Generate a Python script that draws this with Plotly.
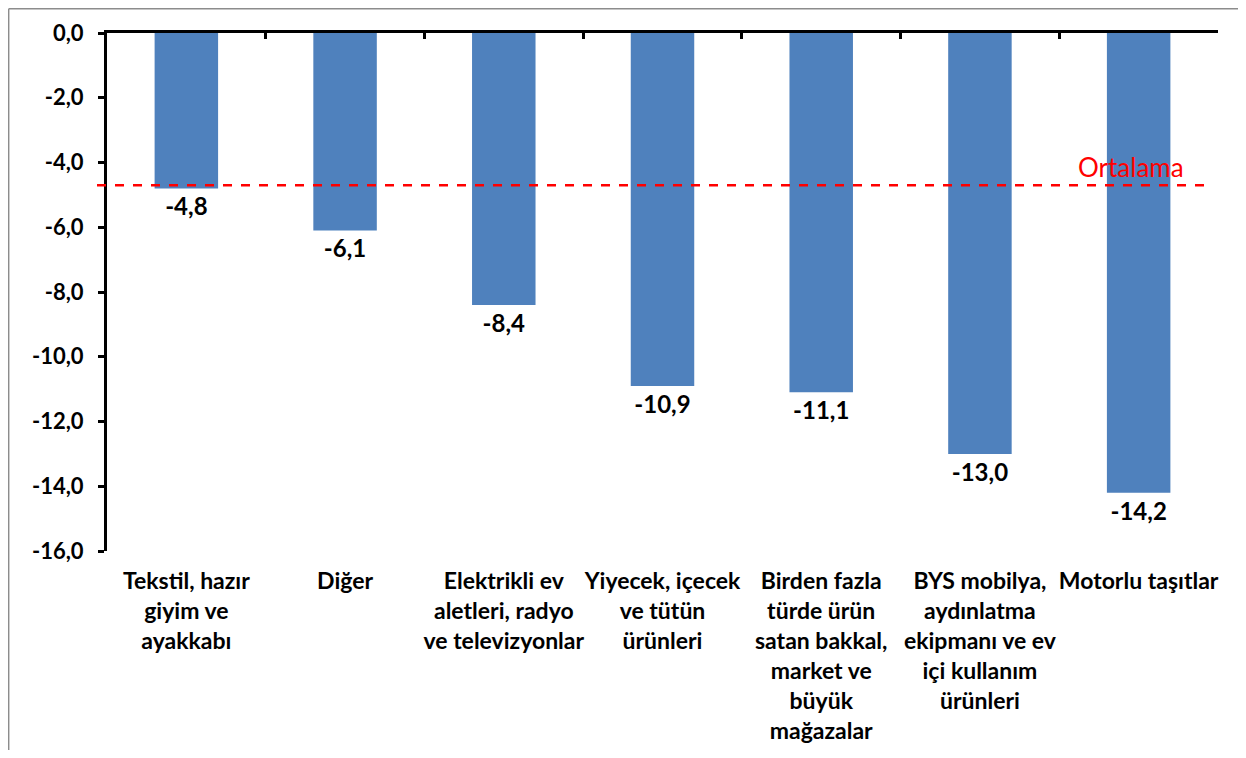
import plotly.graph_objects as go

categories = [
    "Tekstil, hazır<br>giyim ve<br>ayakkabı",
    "Diğer",
    "Elektrikli ev<br>aletleri, radyo<br>ve televizyonlar",
    "Yiyecek, içecek<br>ve tütün<br>ürünleri",
    "Birden fazla<br>türde ürün<br>satan bakkal,<br>market ve<br>büyük<br>mağazalar",
    "BYS mobilya,<br>aydınlatma<br>ekipmanı ve ev<br>içi kullanım<br>ürünleri",
    "Motorlu taşıtlar",
]
values = [-4.8, -6.1, -8.4, -10.9, -11.1, -13.0, -14.2]
ortalama = -4.7
y_ticks = [0, -2, -4, -6, -8, -10, -12, -14, -16]
y_tick_labels = ["0,0", "-2,0", "-4,0", "-6,0", "-8,0", "-10,0", "-12,0", "-14,0", "-16,0"]

font_family = "Lato, 'Open Sans', sans-serif"

fig = go.Figure()
fig.add_trace(go.Bar(
    x=categories, y=values,
    marker=dict(color="#4F81BD", line=dict(width=0)),
    texttemplate="%{y:.1f}", textposition="outside",
    textfont=dict(size=24, color="black", family=font_family, weight="bold"),
    cliponaxis=False, showlegend=False, hoverinfo="skip",
))
# invisible trace to carry the top axis line with boundary ticks
fig.add_trace(go.Scatter(x=categories, y=values, xaxis="x2", mode="markers",
                         marker=dict(opacity=0), showlegend=False, hoverinfo="skip"))

fig.add_shape(type="line", xref="paper", yref="y", x0=-0.009, x1=0.995,
              y0=ortalama, y1=ortalama,
              line=dict(color="#FF0000", width=2.5, dash="dash"))
fig.add_annotation(xref="paper", yref="y", x=0.922, y=ortalama, xanchor="center",
                   yanchor="bottom", yshift=0,
                   text="Ortalama", showarrow=False,
                   font=dict(size=26, color="#FF0000", family=font_family))

# outer chart border (left and top)
fig.add_shape(type="line", xref="paper", yref="paper", x0=-0.0885, x1=-0.0885,
              y0=-0.5, y1=1.047, line=dict(color="#8C8C8C", width=1.5))
fig.add_shape(type="line", xref="paper", yref="paper", x0=-0.0885, x1=1.03,
              y0=1.047, y1=1.047, line=dict(color="#8C8C8C", width=1.5))

fig.update_layout(
    width=1230, height=742,
    margin=dict(l=99, r=20, t=25, b=199),
    paper_bgcolor="white", plot_bgcolor="white",
    separators=",.",
    bargap=0.6,
    font=dict(family=font_family, color="black"),
    xaxis=dict(
        showline=False, ticks="", showgrid=False,
        tickfont=dict(size=23, family=font_family, weight="bold"),
        tickangle=0, ticklabelstandoff=14,
        automargin=False,
    ),
    xaxis2=dict(
        overlaying="x", matches="x", side="top", anchor="y",
        showline=True, linecolor="black", linewidth=3,
        ticks="inside", tickson="boundaries", ticklen=6, tickwidth=2.5, tickcolor="black",
        showticklabels=False, showgrid=False, automargin=False,
    ),
    yaxis=dict(
        range=[-16, 0], tickvals=y_ticks, ticktext=y_tick_labels,
        showline=True, linecolor="black", linewidth=3,
        ticks="outside", ticklen=6, tickwidth=2.5, tickcolor="black",
        showgrid=False, zeroline=False,
        tickfont=dict(size=22, family=font_family, weight="bold"),
        ticklabelstandoff=10,
        automargin=False,
    ),
)

fig.write_html("out.html")
